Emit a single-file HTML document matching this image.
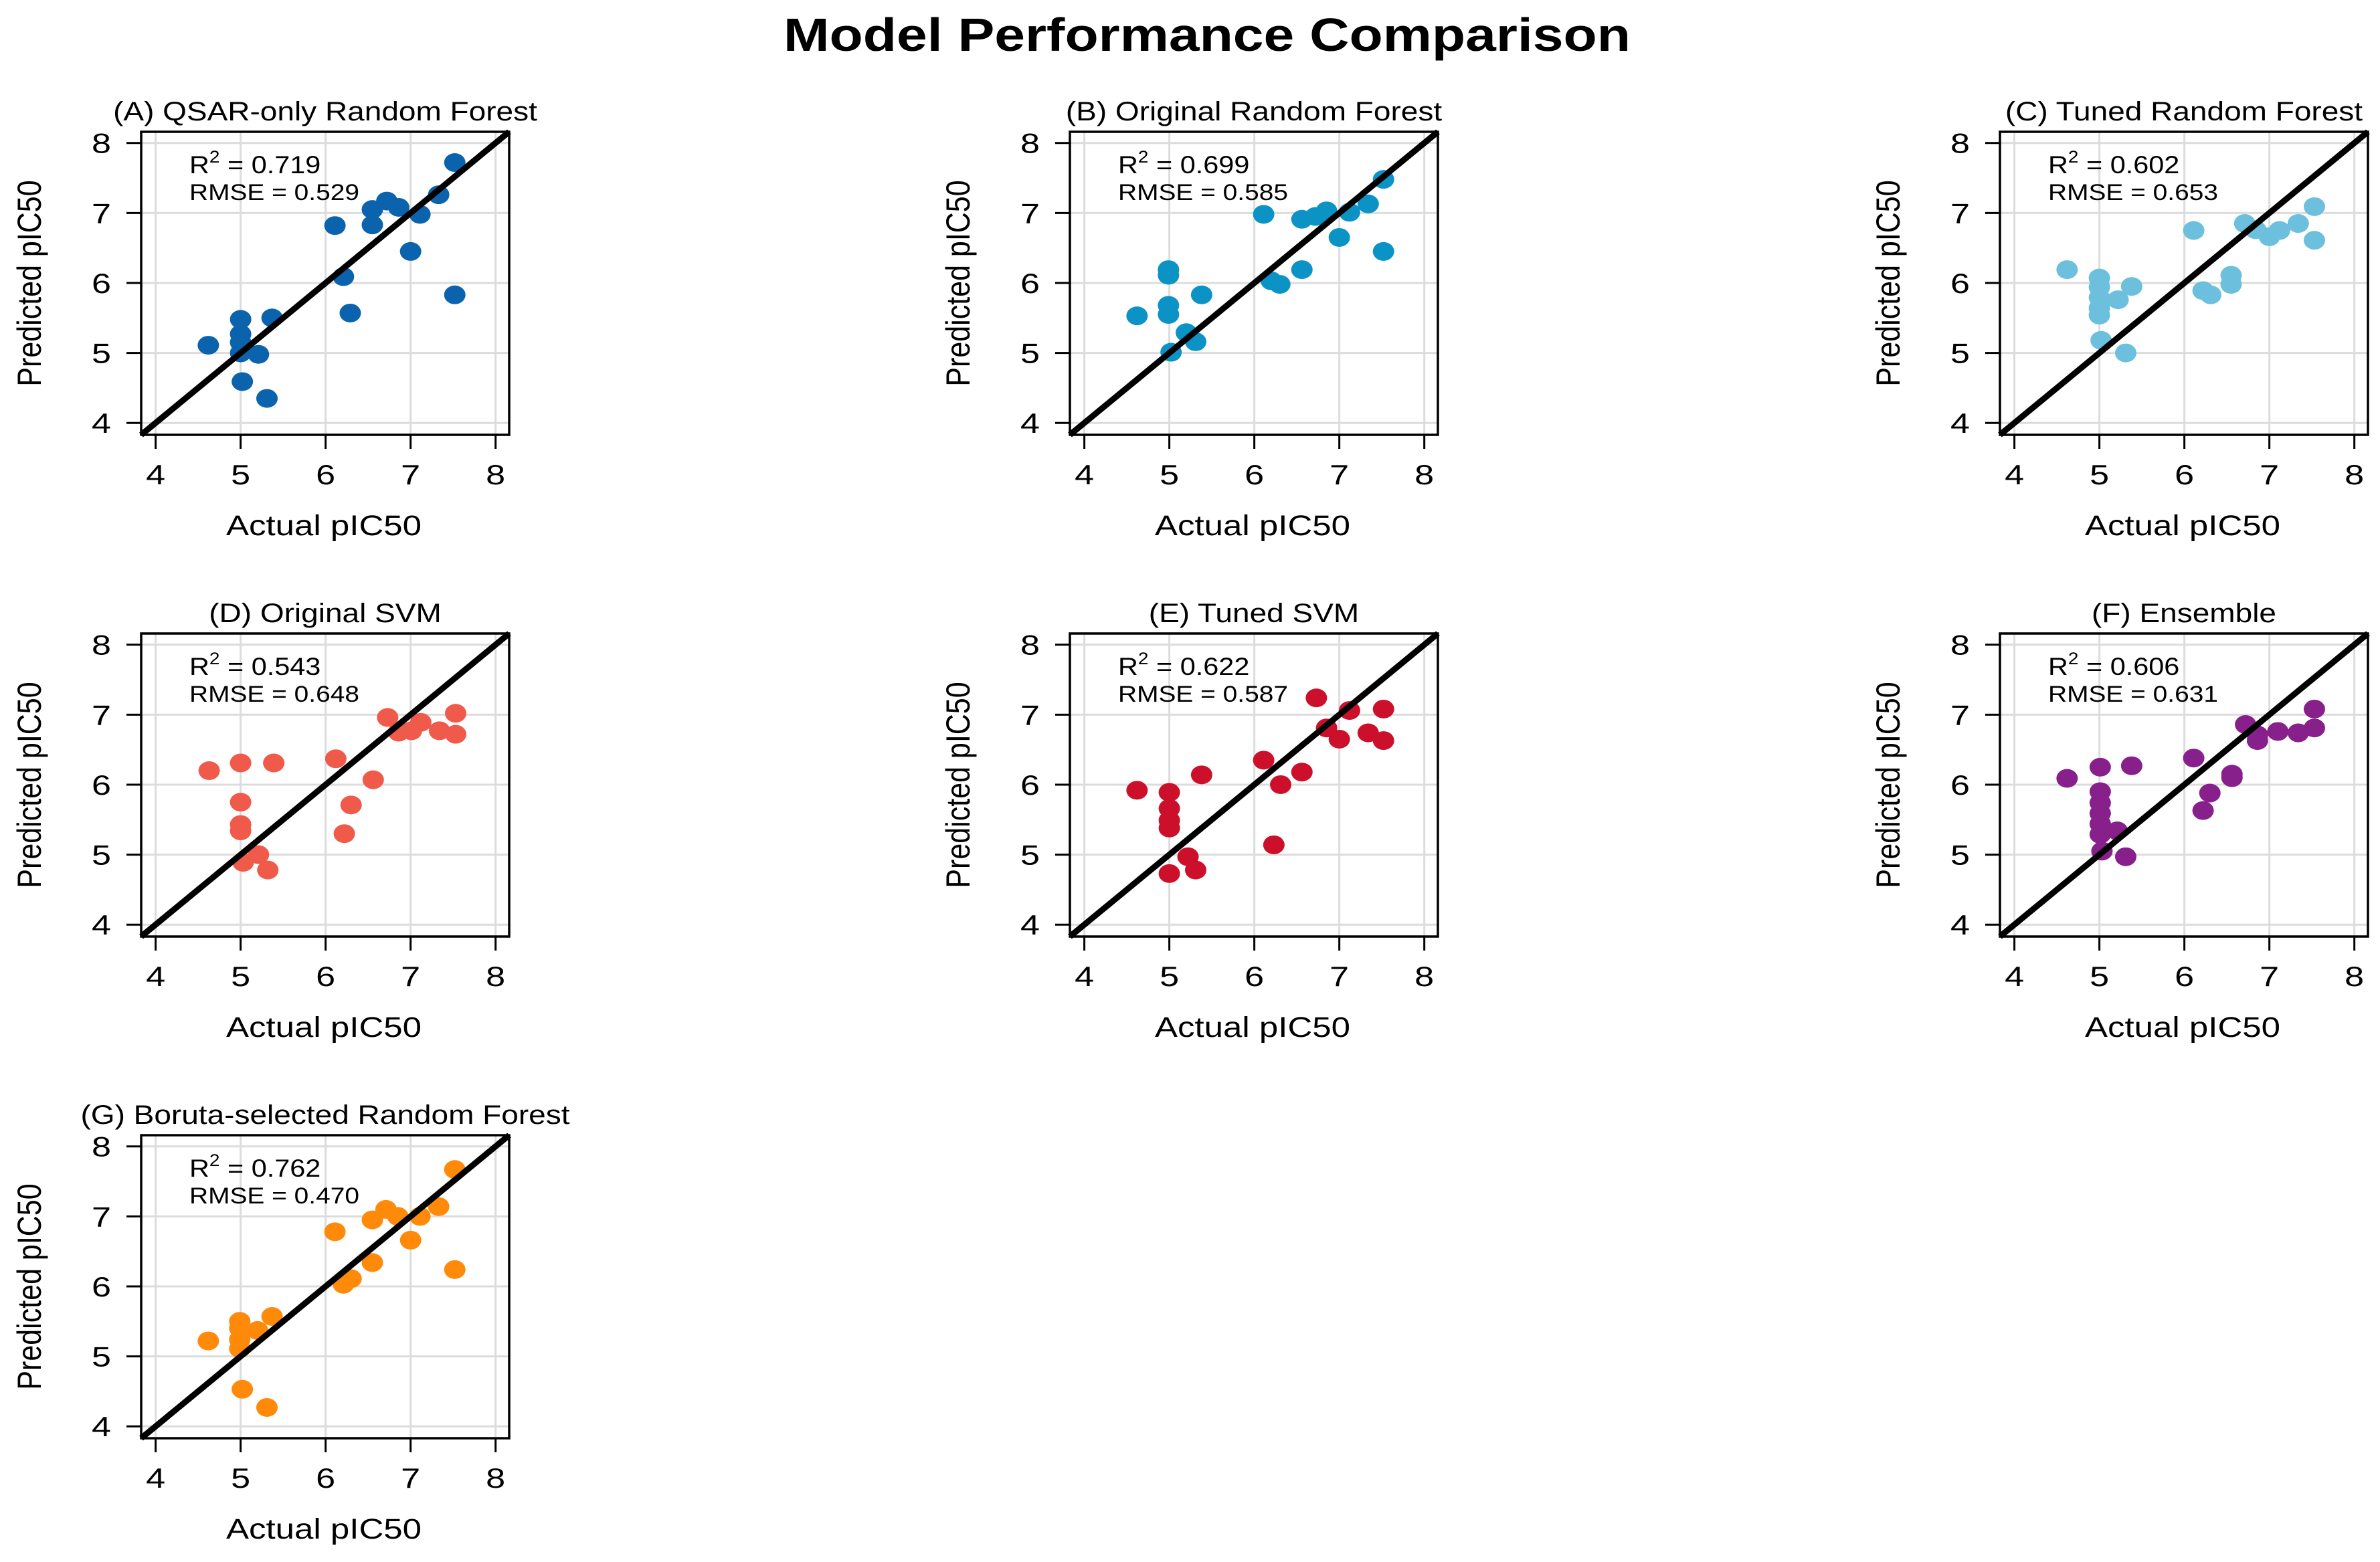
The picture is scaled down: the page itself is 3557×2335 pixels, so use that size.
<!DOCTYPE html>
<html><head><meta charset="utf-8"><style>
html,body{margin:0;padding:0;background:#fff;}
svg{display:block;}
text{font-family:"Liberation Sans",Arial,sans-serif;fill:#000;}
</style></head>
<body>
<svg id="chart" xmlns="http://www.w3.org/2000/svg" width="3557" height="2335" viewBox="0 0 3557 2335">
<rect width="3557" height="2335" fill="#fff"/>
<text x="1804" y="76" text-anchor="middle" font-size="70" font-weight="bold" textLength="1266" lengthAdjust="spacingAndGlyphs">Model Performance Comparison</text>
</svg>
<script>
const panelTitles = ["(A) QSAR-only Random Forest","(B) Original Random Forest","(C) Tuned Random Forest","(D) Original SVM","(E) Tuned SVM","(F) Ensemble","(G) Boruta-selected Random Forest"];
const panelR2 = ["0.719","0.699","0.602","0.543","0.622","0.606","0.762"];
const panelRMSE = ["0.529","0.585","0.653","0.648","0.587","0.631","0.470"];
const panelColors = ["#0b63ae","#0c93c6","#6cc0dd","#f05a4a","#cc0f2a","#87208a","#ff8a0a"];
const tickValues = [4,5,6,7,8];

const actualA = [4.62,5.0,5.0,5.0,5.0,5.21,5.37,5.02,5.31,6.11,6.21,6.29,6.55,6.55,6.72,6.86,7.0,7.11,7.33,7.52,7.52];
const predA   = [5.11,5.48,5.27,5.15,5.0,4.98,5.50,4.59,4.35,6.82,6.09,5.57,7.05,6.83,7.17,7.08,6.45,6.98,7.26,7.72,5.83];
const actualB = [4.62,4.99,4.99,4.99,4.99,5.02,5.20,5.31,5.38,6.11,6.20,6.30,6.56,6.56,6.72,6.85,7.0,7.12,7.34,7.52,7.52];
const predB   = [5.53,6.19,6.11,5.68,5.55,5.01,5.29,5.16,5.83,6.98,6.03,5.98,6.19,6.91,6.95,7.03,6.65,7.01,7.13,7.48,6.45];
const actualC = [4.62,5.0,5.0,5.0,5.0,5.0,5.02,5.22,5.38,5.31,6.11,6.22,6.31,6.55,6.55,6.71,6.84,7.0,7.12,7.34,7.53,7.53];
const predC   = [6.19,6.07,5.94,5.79,5.64,5.54,5.18,5.76,5.95,5.0,6.75,5.89,5.83,6.11,5.98,6.85,6.76,6.66,6.75,6.85,7.09,6.61];
const actualD = [4.63,5.0,5.39,5.0,5.0,5.0,5.03,5.21,5.32,6.12,6.30,6.22,6.56,6.73,6.86,7.01,7.12,7.34,7.53,7.53];
const predD   = [6.20,6.31,6.31,5.75,5.43,5.34,4.89,5.0,4.78,6.37,5.71,5.30,6.07,6.96,6.75,6.77,6.89,6.77,7.02,6.72];
const actualE = [4.62,5.0,5.0,5.0,5.0,5.0,5.22,5.31,5.38,6.11,6.23,6.31,6.56,6.73,6.85,7.0,7.12,7.34,7.52,7.52];
const predE   = [5.92,5.89,5.66,5.49,5.38,4.73,4.97,4.78,6.14,6.35,5.14,6.0,6.18,7.24,6.81,6.65,7.06,6.74,7.08,6.63];
const actualF = [4.62,5.01,5.38,5.01,5.01,5.01,5.01,5.01,5.03,5.21,5.31,6.11,6.30,6.22,6.56,6.56,6.72,6.86,6.86,7.10,7.34,7.53,7.53];
const predF   = [6.09,6.25,6.27,5.90,5.74,5.59,5.44,5.29,5.05,5.34,4.97,6.38,5.88,5.63,6.15,6.10,6.86,6.63,6.71,6.76,6.74,6.81,7.08];
const actualG = [4.62,4.99,4.99,4.99,4.99,5.20,5.37,5.02,5.31,6.11,6.21,6.30,6.55,6.55,6.71,6.85,7.0,7.11,7.33,7.52,7.52];
const predG   = [5.22,5.50,5.40,5.24,5.11,5.37,5.57,4.53,4.27,6.78,6.03,6.11,6.34,6.95,7.10,7.0,6.66,7.0,7.14,7.67,6.24];

const seriesActual = [actualA,actualB,actualC,actualD,actualE,actualF,actualG];
const seriesPred = [predA,predB,predC,predD,predE,predF,predG];

const NS = "http://www.w3.org/2000/svg";
const svg = document.getElementById('chart');
const colLeft = [211,1599,2989], rowTop = [197,947,1697];
const W = 550, H = 453, XMIN = 3.83, XMAX = 8.16, YMIN = 3.83, YMAX = 8.16;
const letters = ["a","b","c","d","e","f","g"];

function mk(tag, attrs, parent){
  const e = document.createElementNS(NS, tag);
  for (const k in attrs) e.setAttribute(k, attrs[k]);
  (parent||svg).appendChild(e);
  return e;
}

for (let p = 0; p < 7; p++) {
  const L = colLeft[p % 3], T = rowTop[Math.floor(p / 3)];
  const sx = v => L + (v - XMIN) / (XMAX - XMIN) * W;
  const sy = v => T + H - (v - YMIN) / (YMAX - YMIN) * H;
  const g = mk('g', {});
  
  

  const title = mk('text', {x: L + W/2, y: T - 17, 'text-anchor': 'middle', 'font-size': 40, transform: `translate(${L + W/2},0) scale(1.15,1) translate(${-(L + W/2)},0)`}, g);
  title.textContent = panelTitles[p];
  
  

  tickValues.forEach(v => {
    const gx = mk('line', {x1: sx(v), x2: sx(v), y1: T, y2: T + H, stroke: '#dcdcdc', 'stroke-width': 3}, g);
    
    
    const gy = mk('line', {x1: L, x2: L + W, y1: sy(v), y2: sy(v), stroke: '#dcdcdc', 'stroke-width': 3}, g);
    
    
  });

  const xs = seriesActual[p], ys = seriesPred[p];
  for (let i = 0; i < xs.length; i++) {
    const c = mk('ellipse', {cx: sx(xs[i]), cy: sy(ys[i]), rx: 16, ry: 14, fill: panelColors[p]}, g);
    
    
  }

  const dl = mk('line', {x1: sx(XMIN), y1: sy(XMIN), x2: sx(XMAX), y2: sy(XMAX), stroke: '#000', 'stroke-width': 9}, g);
  
  

  const bx = mk('rect', {x: L, y: T, width: W, height: H, fill: 'none', stroke: '#000', 'stroke-width': 3.5}, g);
  
  

  tickValues.forEach(v => {
    mk('line', {x1: sx(v), x2: sx(v), y1: T + H, y2: T + H + 21, stroke: '#000', 'stroke-width': 3}, g);
    const tx = mk('text', {x: sx(v), y: T + H + 74, 'text-anchor': 'middle', 'font-size': 42, textLength: 29, lengthAdjust: 'spacingAndGlyphs'}, g);
    tx.textContent = v;
    
    
    mk('line', {x1: L - 22, x2: L, y1: sy(v), y2: sy(v), stroke: '#000', 'stroke-width': 3}, g);
    const ty = mk('text', {x: L - 45, y: sy(v) + 15, 'text-anchor': 'end', 'font-size': 42, textLength: 29, lengthAdjust: 'spacingAndGlyphs'}, g);
    ty.textContent = v;
    
    
  });

  const xl = mk('text', {x: L + W/2 - 2, y: T + H + 150, 'text-anchor': 'middle', 'font-size': 43, textLength: 292, lengthAdjust: 'spacingAndGlyphs'}, g);
  xl.textContent = 'Actual pIC50';
  
  

  const yl = mk('text', {x: 0, y: 0, 'text-anchor': 'middle', 'font-size': 43, transform: `translate(${L - 150},${T + H/2}) rotate(-90) scale(1,1.17)`}, g);
  yl.textContent = 'Predicted pIC50';
  
  

  const r2 = mk('text', {x: L + 72, y: T + 62, 'font-size': 37, transform: `translate(${L + 72},0) scale(1.12,1) translate(${-(L + 72)},0)`}, g);
  r2.innerHTML = 'R<tspan dy="-16" font-size="25">2</tspan><tspan dy="16"> = ' + panelR2[p] + '</tspan>';
  
  

  const rm = mk('text', {x: L + 72, y: T + 102, 'font-size': 34, textLength: 254, lengthAdjust: 'spacingAndGlyphs'}, g);
  rm.textContent = 'RMSE = ' + panelRMSE[p];
  
  
}
</script>
</body></html>
